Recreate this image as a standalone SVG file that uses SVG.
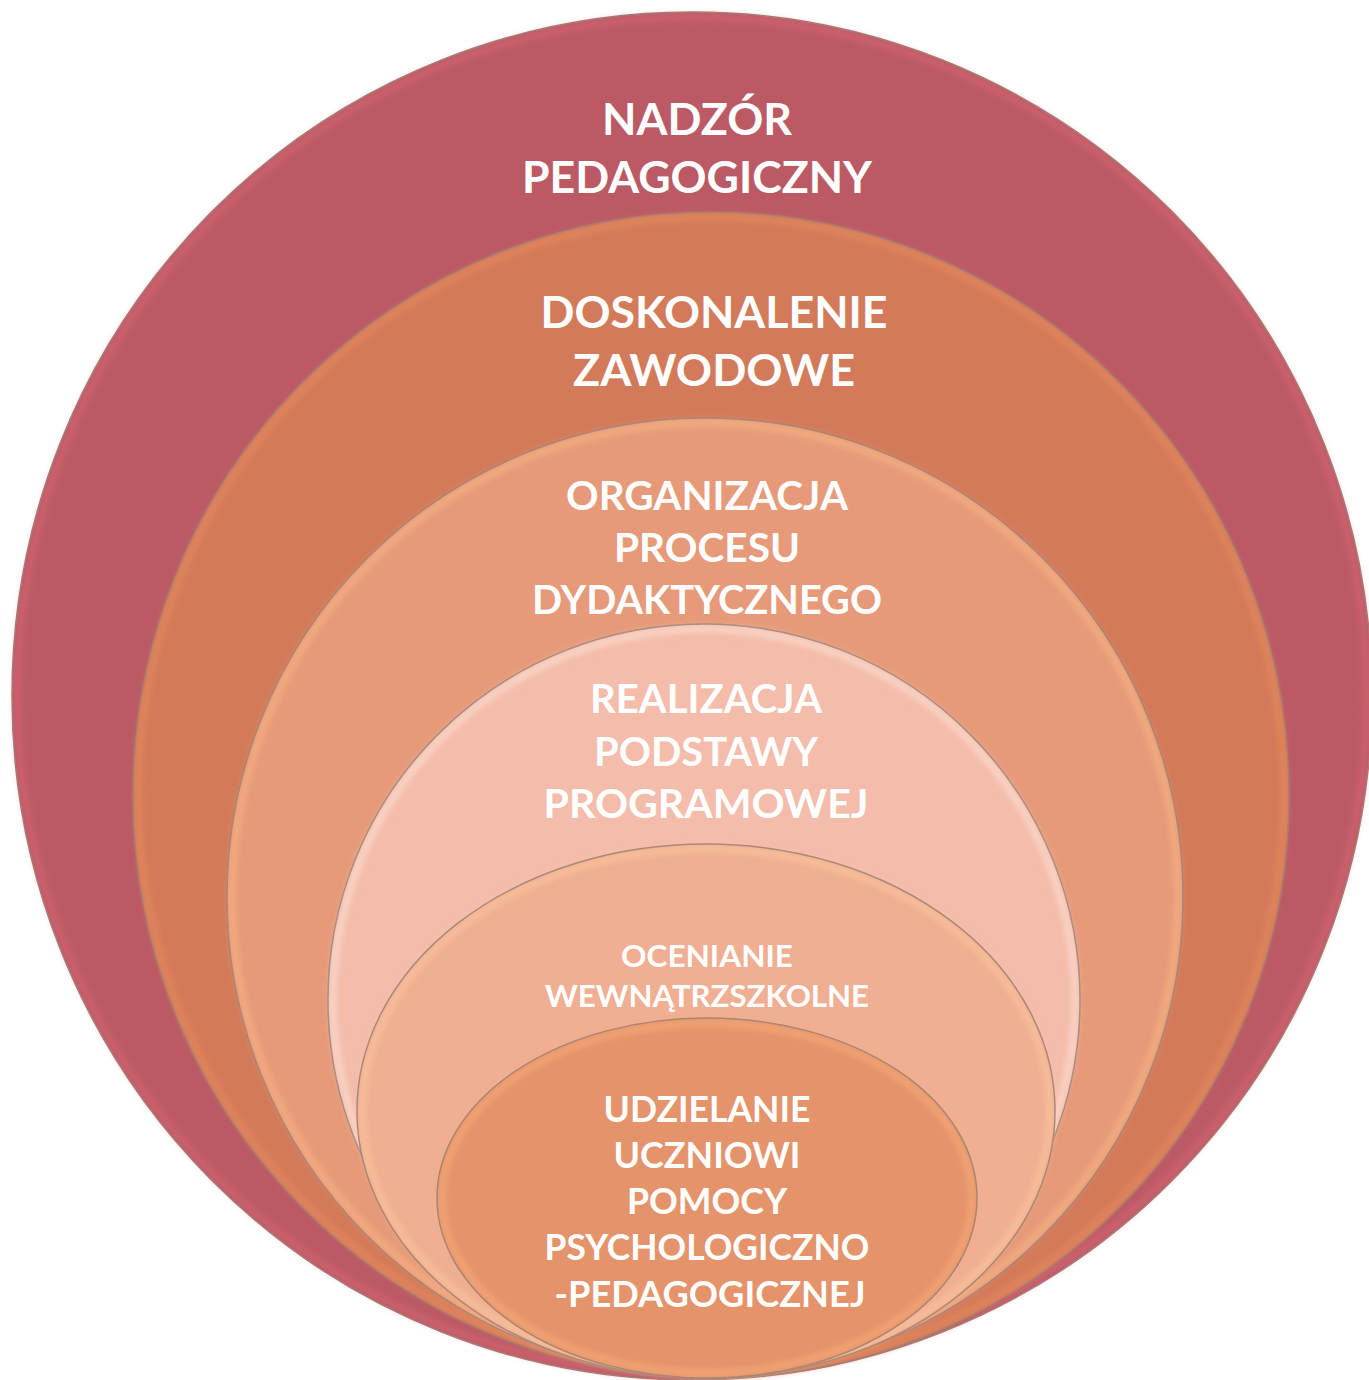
<svg xmlns="http://www.w3.org/2000/svg" width="1369" height="1380" viewBox="0 0 1369 1380">
<defs>
<filter id="rim" x="-5%" y="-5%" width="110%" height="110%"><feGaussianBlur stdDeviation="3"/></filter>
</defs>
<style>
.edge{stroke:#9c7c72;stroke-width:1.5}
.hl{fill:none;stroke:#ffd8b0;stroke-width:6;opacity:0.55}
.t{font-family:Lato,"Open Sans","Liberation Sans",sans-serif;font-weight:700;fill:#ffffff;text-anchor:middle}
</style>
<rect width="1369" height="1380" fill="#ffffff"/>
<g id="n1">
<ellipse cx="692" cy="696" rx="680" ry="684" fill="#BB5A65" class="edge"/>
<ellipse cx="692" cy="696" rx="675" ry="679" class="hl" style="stroke:#e06a78" filter="url(#rim)"/>
<text class="t" font-size="44"><tspan x="697" y="135" textLength="190" lengthAdjust="spacingAndGlyphs">NADZÓR</tspan><tspan x="697" y="193" textLength="350" lengthAdjust="spacingAndGlyphs">PEDAGOGICZNY</tspan></text>
</g>
<g id="n2">
<ellipse cx="711" cy="795" rx="578" ry="583" fill="#D37A5A" class="edge"/>
<ellipse cx="711" cy="795" rx="573" ry="578" class="hl" style="stroke:#f0905e" filter="url(#rim)"/>
<text class="t" font-size="44"><tspan x="714" y="328" textLength="347" lengthAdjust="spacingAndGlyphs">DOSKONALENIE</tspan><tspan x="714" y="386" textLength="282" lengthAdjust="spacingAndGlyphs">ZAWODOWE</tspan></text>
</g>
<g id="n3">
<ellipse cx="705" cy="897" rx="478" ry="479" fill="#E69A79" class="edge"/>
<ellipse cx="705" cy="897" rx="473" ry="474" class="hl" style="stroke:#ffc08a" filter="url(#rim)"/>
<text class="t" font-size="40"><tspan x="707" y="510" textLength="282" lengthAdjust="spacingAndGlyphs">ORGANIZACJA</tspan><tspan x="707" y="562" textLength="186" lengthAdjust="spacingAndGlyphs">PROCESU</tspan><tspan x="707" y="614" textLength="350" lengthAdjust="spacingAndGlyphs">DYDAKTYCZNEGO</tspan></text>
</g>
<g id="n4">
<ellipse cx="704" cy="1000" rx="376" ry="376" fill="#F4BCAA" class="edge"/>
<ellipse cx="704" cy="1000" rx="371" ry="371" class="hl" style="stroke:#fff0e6" filter="url(#rim)"/>
<text class="t" font-size="40"><tspan x="706" y="713" textLength="232" lengthAdjust="spacingAndGlyphs">REALIZACJA</tspan><tspan x="706" y="766" textLength="224" lengthAdjust="spacingAndGlyphs">PODSTAWY</tspan><tspan x="706" y="818" textLength="325" lengthAdjust="spacingAndGlyphs">PROGRAMOWEJ</tspan></text>
</g>
<g id="n5">
<ellipse cx="706" cy="1111" rx="349" ry="267" fill="#F0AE92" class="edge"/>
<ellipse cx="706" cy="1111" rx="344" ry="262" class="hl" style="stroke:#ffd0a0" filter="url(#rim)"/>
<text class="t" font-size="31"><tspan x="707" y="967" textLength="172" lengthAdjust="spacingAndGlyphs">OCENIANIE</tspan><tspan x="707" y="1007" textLength="324" lengthAdjust="spacingAndGlyphs">WEWNĄTRZSZKOLNE</tspan></text>
</g>
<g id="n6">
<ellipse cx="707" cy="1198" rx="270" ry="180" fill="#E5936A" class="edge"/>
<ellipse cx="707" cy="1198" rx="265" ry="175" class="hl" style="stroke:#ffb880" filter="url(#rim)"/>
<text class="t" font-size="36"><tspan x="707" y="1122" textLength="207" lengthAdjust="spacingAndGlyphs">UDZIELANIE</tspan><tspan x="707" y="1168" textLength="187" lengthAdjust="spacingAndGlyphs">UCZNIOWI</tspan><tspan x="707" y="1214" textLength="160" lengthAdjust="spacingAndGlyphs">POMOCY</tspan><tspan x="707" y="1260" textLength="325" lengthAdjust="spacingAndGlyphs">PSYCHOLOGICZNO</tspan><tspan x="710" y="1307" textLength="311" lengthAdjust="spacingAndGlyphs">-PEDAGOGICZNEJ</tspan></text>
</g>
<g id="connectors"/>
</svg>
